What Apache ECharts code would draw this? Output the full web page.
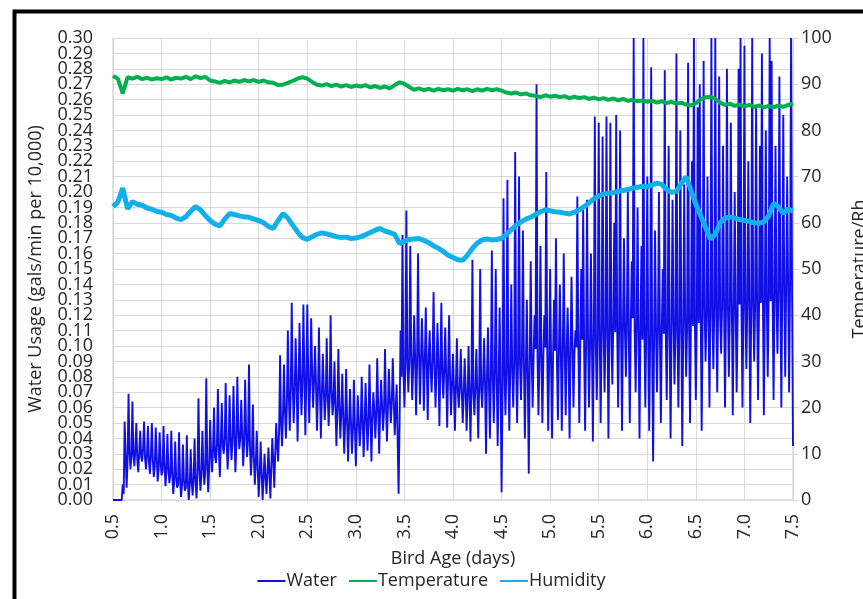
<!DOCTYPE html>
<html>
<head>
<meta charset="utf-8">
<script src="https://cdn.jsdelivr.net/npm/echarts@6/dist/echarts.min.js"></script>
<style>
  html, body { margin: 0; padding: 0; background: #fff; }
  #chart { width: 863px; height: 599px; }
</style>
</head>
<body>
<div id="chart"></div>
<script>
// water readings, one every WATER_STEP days starting at WATER_START
const WATER_START = 0.5;
const WATER_STEP = 0.01;
const waterValues = [
  0, 0, 0, 0, 0, 0, 0, 0, 0, 0, 0.010, 0.004, 0.051, 0.030, 0.008, 0.025, 0.069, 0.032, 0.020, 0.028,
  0.064, 0.030, 0.022, 0.033, 0.050, 0.026, 0.018, 0.031, 0.045, 0.028, 0.025, 0.034, 0.051, 0.027, 0.020, 0.030, 0.048, 0.025, 0.017, 0.029,
  0.050, 0.026, 0.015, 0.022, 0.047, 0.028, 0.012, 0.020, 0.044, 0.025, 0.016, 0.019, 0.048, 0.024, 0.009, 0.018, 0.043, 0.021, 0.011, 0.016,
  0.045, 0.018, 0.004, 0.012, 0.038, 0.015, 0.008, 0.010, 0.044, 0.014, 0.002, 0.009, 0.036, 0.013, 0.006, 0.008, 0.042, 0.012, 0.000, 0.010,
  0.033, 0.012, 0.003, 0.015, 0.040, 0.011, 0.001, 0.018, 0.066, 0.020, 0.006, 0.016, 0.045, 0.022, 0.010, 0.019, 0.079, 0.025, 0.005, 0.021,
  0.052, 0.030, 0.018, 0.034, 0.060, 0.028, 0.024, 0.036, 0.072, 0.032, 0.015, 0.038, 0.063, 0.035, 0.030, 0.040, 0.076, 0.037, 0.020, 0.033,
  0.068, 0.041, 0.026, 0.038, 0.074, 0.044, 0.018, 0.036, 0.080, 0.046, 0.033, 0.040, 0.065, 0.043, 0.022, 0.037, 0.078, 0.045, 0.028, 0.039,
  0.088, 0.035, 0.016, 0.030, 0.062, 0.028, 0.010, 0.024, 0.045, 0.020, 0.002, 0.016, 0.038, 0.018, 0.000, 0.014, 0.030, 0.015, 0.004, 0.017,
  0.034, 0.018, 0.001, 0.022, 0.040, 0.026, 0.008, 0.030, 0.050, 0.035, 0.025, 0.045, 0.094, 0.050, 0.035, 0.055, 0.088, 0.058, 0.040, 0.062,
  0.110, 0.068, 0.045, 0.072, 0.128, 0.075, 0.050, 0.070, 0.105, 0.078, 0.038, 0.074, 0.115, 0.080, 0.055, 0.076, 0.127, 0.082, 0.042, 0.078,
  0.127, 0.080, 0.050, 0.076, 0.118, 0.083, 0.060, 0.078, 0.100, 0.074, 0.045, 0.070, 0.112, 0.072, 0.040, 0.068, 0.095, 0.071, 0.052, 0.066,
  0.105, 0.070, 0.048, 0.066, 0.120, 0.072, 0.055, 0.064, 0.090, 0.060, 0.035, 0.058, 0.098, 0.062, 0.040, 0.056, 0.082, 0.054, 0.030, 0.050,
  0.085, 0.052, 0.025, 0.048, 0.072, 0.050, 0.030, 0.046, 0.078, 0.049, 0.022, 0.045, 0.068, 0.051, 0.035, 0.047, 0.080, 0.053, 0.028, 0.049,
  0.076, 0.054, 0.032, 0.050, 0.088, 0.056, 0.025, 0.052, 0.070, 0.058, 0.040, 0.055, 0.092, 0.060, 0.030, 0.057, 0.078, 0.061, 0.045, 0.058,
  0.098, 0.062, 0.038, 0.060, 0.085, 0.065, 0.050, 0.063, 0.092, 0.066, 0.042, 0.058, 0.075, 0.040, 0.004, 0.050, 0.110, 0.080, 0.172, 0.085,
  0.060, 0.088, 0.188, 0.092, 0.070, 0.090, 0.165, 0.095, 0.065, 0.086, 0.120, 0.093, 0.055, 0.089, 0.160, 0.096, 0.062, 0.091, 0.118, 0.094,
  0.058, 0.090, 0.125, 0.087, 0.052, 0.093, 0.110, 0.085, 0.070, 0.091, 0.135, 0.088, 0.060, 0.084, 0.115, 0.090, 0.048, 0.086, 0.128, 0.082,
  0.066, 0.085, 0.112, 0.080, 0.047, 0.083, 0.120, 0.078, 0.055, 0.076, 0.095, 0.072, 0.045, 0.075, 0.105, 0.070, 0.060, 0.074, 0.098, 0.071,
  0.050, 0.068, 0.092, 0.072, 0.045, 0.066, 0.100, 0.070, 0.038, 0.074, 0.156, 0.069, 0.055, 0.073, 0.098, 0.071, 0.040, 0.076, 0.150, 0.072,
  0.060, 0.078, 0.105, 0.074, 0.030, 0.080, 0.112, 0.076, 0.040, 0.082, 0.162, 0.079, 0.050, 0.084, 0.150, 0.080, 0.035, 0.078, 0.125, 0.075,
  0.005, 0.070, 0.196, 0.082, 0.055, 0.086, 0.208, 0.080, 0.045, 0.088, 0.140, 0.084, 0.060, 0.090, 0.226, 0.087, 0.050, 0.092, 0.210, 0.088,
  0.065, 0.094, 0.175, 0.090, 0.040, 0.086, 0.130, 0.080, 0.017, 0.088, 0.155, 0.092, 0.060, 0.095, 0.120, 0.098, 0.270, 0.093, 0.055, 0.090,
  0.165, 0.096, 0.050, 0.092, 0.120, 0.099, 0.213, 0.094, 0.045, 0.090, 0.150, 0.088, 0.040, 0.093, 0.130, 0.097, 0.170, 0.091, 0.052, 0.095,
  0.140, 0.098, 0.045, 0.094, 0.160, 0.100, 0.055, 0.096, 0.125, 0.092, 0.040, 0.097, 0.145, 0.101, 0.060, 0.095, 0.110, 0.099, 0.197, 0.103,
  0.050, 0.100, 0.150, 0.104, 0.190, 0.098, 0.045, 0.102, 0.195, 0.106, 0.060, 0.099, 0.160, 0.103, 0.038, 0.108, 0.249, 0.101, 0.065, 0.105,
  0.245, 0.110, 0.050, 0.106, 0.236, 0.112, 0.070, 0.108, 0.249, 0.114, 0.040, 0.104, 0.245, 0.111, 0.075, 0.115, 0.180, 0.109, 0.250, 0.113,
  0.060, 0.112, 0.240, 0.108, 0.045, 0.115, 0.170, 0.110, 0.080, 0.117, 0.200, 0.106, 0.050, 0.113, 0.155, 0.118, 0.300, 0.110, 0.070, 0.114,
  0.190, 0.108, 0.040, 0.112, 0.165, 0.104, 0.300, 0.110, 0.060, 0.115, 0.210, 0.102, 0.045, 0.108, 0.281, 0.100, 0.025, 0.105, 0.175, 0.110,
  0.070, 0.112, 0.200, 0.106, 0.050, 0.114, 0.150, 0.108, 0.279, 0.110, 0.065, 0.116, 0.230, 0.107, 0.040, 0.112, 0.195, 0.118, 0.075, 0.109,
  0.290, 0.114, 0.060, 0.110, 0.240, 0.116, 0.035, 0.108, 0.205, 0.118, 0.080, 0.112, 0.284, 0.115, 0.050, 0.120, 0.220, 0.113, 0.300, 0.117,
  0.065, 0.120, 0.255, 0.115, 0.270, 0.122, 0.045, 0.118, 0.285, 0.125, 0.090, 0.119, 0.210, 0.123, 0.060, 0.127, 0.300, 0.121, 0.085, 0.126,
  0.300, 0.124, 0.070, 0.128, 0.275, 0.120, 0.095, 0.126, 0.230, 0.130, 0.060, 0.122, 0.280, 0.127, 0.080, 0.124, 0.245, 0.129, 0.055, 0.121,
  0.200, 0.125, 0.070, 0.119, 0.280, 0.127, 0.300, 0.122, 0.060, 0.128, 0.295, 0.124, 0.085, 0.130, 0.220, 0.126, 0.050, 0.123, 0.300, 0.129,
  0.090, 0.126, 0.255, 0.131, 0.065, 0.124, 0.230, 0.128, 0.290, 0.133, 0.055, 0.127, 0.240, 0.130, 0.080, 0.134, 0.300, 0.129, 0.285, 0.132,
  0.065, 0.135, 0.230, 0.130, 0.095, 0.138, 0.275, 0.133, 0.060, 0.140, 0.250, 0.136, 0.080, 0.142, 0.210, 0.138, 0.070, 0.144, 0.300, 0.140,
  0.035
];

// temperature and humidity, one every CLIMATE_STEP days
const CLIMATE_START = 0.5;
const CLIMATE_STEP = 0.05;
const temperatureValues = [
  91.8, 91.2, 88.0, 91.5, 91.2, 91.6, 91.1, 91.4, 91.0, 91.3,
  91.1, 91.5, 91.0, 91.4, 91.2, 91.6, 91.1, 91.7, 91.3, 91.6,
  90.8, 90.6, 90.3, 90.7, 90.4, 90.8, 90.5, 90.9, 90.6, 90.9,
  90.5, 90.8, 90.4, 90.3, 89.8, 89.9, 90.3, 90.7, 91.2, 91.5,
  91.2, 90.5, 89.9, 89.7, 90.0, 89.6, 89.9, 89.5, 89.8, 89.4,
  89.7, 89.5, 89.8, 89.3, 89.6, 89.2, 89.5, 89.1, 89.8, 90.4,
  90.1, 89.4, 88.8, 89.1, 88.7, 89.0, 88.6, 89.0, 88.7, 88.9,
  88.6, 89.0, 88.7, 88.9, 88.5, 88.9, 88.6, 89.0, 88.7, 88.9,
  88.6, 88.2, 88.0, 88.2, 87.8, 88.0, 87.6, 87.5, 87.2, 87.6,
  87.3, 87.5, 87.2, 87.4, 87.0, 87.3, 87.0, 87.2, 86.8, 87.1,
  86.7, 87.0, 86.6, 86.9, 86.5, 86.8, 86.4, 86.6, 86.3, 86.5,
  86.2, 86.4, 86.0, 86.3, 85.9, 86.2, 85.8, 86.0, 85.6, 85.4,
  85.9, 86.7, 87.2, 87.3, 86.8, 86.0, 85.5, 85.8, 85.3, 85.6,
  85.2, 85.5, 85.1, 85.4, 85.0, 85.3, 85.0, 85.4, 85.1, 85.5,
  85.8
];
const humidityValues = [
  63.5, 64.5, 67.5, 63.0, 64.6, 64.0, 63.8, 63.2, 62.9, 62.5,
  62.3, 61.8, 61.6, 61.0, 60.7, 61.3, 62.5, 63.5, 62.8, 61.6,
  60.5, 59.7, 59.3, 60.8, 62.0, 61.8, 61.5, 61.3, 61.2, 60.8,
  60.5, 60.0, 59.2, 58.8, 60.5, 62.0, 61.0, 59.5, 58.0, 56.8,
  56.4, 57.0, 57.5, 57.8, 57.6, 57.3, 57.0, 56.8, 56.9, 56.6,
  56.7, 57.0, 57.4, 57.9, 58.4, 58.8, 58.2, 57.9, 57.5, 55.5,
  56.0, 56.4, 56.5, 56.6, 56.2, 55.7, 55.0, 54.5, 53.8, 53.0,
  52.5, 52.0, 51.9, 53.0, 54.5, 55.6, 56.3, 56.5, 56.3, 56.4,
  56.6, 57.5, 58.5, 59.5, 60.2, 60.8, 61.2, 61.8, 62.4, 62.8,
  62.6, 62.4, 62.3, 62.1, 61.9, 62.3, 62.8, 63.5, 64.3, 65.2,
  65.8, 66.2, 66.4, 66.5, 66.8, 67.0, 67.2, 67.5, 67.7, 67.9,
  67.8, 68.2, 68.6, 68.3, 67.2, 66.6, 66.8, 68.5, 70.0, 67.0,
  64.0, 61.5, 59.0, 56.5, 57.5, 60.0, 61.0, 61.3, 61.0, 60.7,
  60.5, 60.3, 60.0, 59.9, 60.2, 61.5, 64.2, 63.5, 62.0, 63.0,
  62.5
];

function toPairs(start, step, values) {
  return values.map((v, i) => [+(start + i * step).toFixed(3), v]);
}

const chart = echarts.init(document.getElementById('chart'));
const font = '"Open Sans", sans-serif';
const textColor = '#262626';
const gridColor = '#d9d9d9';

const option = {
  backgroundColor: '#fff',
  animation: false,
  graphic: [{
    type: 'rect',
    shape: { x: 14.5, y: 11.5, width: 900, height: 700 },
    style: { fill: 'none', stroke: '#000', lineWidth: 4 },
    z: 100
  }],
  legend: {
    bottom: 4,
    left: 'center',
    icon: 'rect',
    itemWidth: 28,
    itemHeight: 2,
    itemGap: 12,
    textStyle: { fontFamily: font, fontSize: 18, color: textColor, padding: [0, 0, 0, -4] },
    data: ['Water', 'Temperature', 'Humidity']
  },
  grid: { left: 113, right: 70, top: 38, bottom: 99, outerBoundsMode: 'none' },
  xAxis: {
    type: 'value',
    min: 0.5,
    max: 7.5,
    interval: 0.5,
    name: 'Bird Age (days)',
    nameLocation: 'middle',
    nameGap: 50,
    nameTextStyle: { fontFamily: font, fontSize: 18, color: textColor },
    axisLine: { show: true, lineStyle: { color: gridColor, width: 1.5 } },
    axisTick: { show: false },
    splitLine: { show: true, lineStyle: { color: gridColor, width: 1 } },
    axisLabel: {
      rotate: 90,
      margin: 14,
      showMinLabel: true,
      showMaxLabel: true,
      fontFamily: font,
      fontSize: 18,
      color: textColor,
      formatter: v => v.toFixed(1)
    }
  },
  yAxis: [{
    // water axis: inner labels 0.01 .. 0.29
    type: 'value',
    min: 0,
    max: 0.3,
    interval: 0.01,
    name: 'Water Usage (gals/min per 10,000)',
    nameLocation: 'middle',
    nameGap: 68,
    nameRotate: 90,
    nameTextStyle: { fontFamily: font, fontSize: 18, color: textColor },
    axisLine: { show: true, lineStyle: { color: gridColor, width: 1.5 } },
    axisTick: { show: false },
    splitLine: { show: true, lineStyle: { color: gridColor, width: 1 } },
    axisLabel: {
      margin: 20,
      showMinLabel: false,
      showMaxLabel: false,
      fontFamily: font,
      fontSize: 18,
      color: textColor,
      formatter: v => v.toFixed(2)
    }
  }, {
    type: 'value',
    min: 0,
    max: 100,
    interval: 10,
    position: 'right',
    name: 'Temperature/Rh',
    nameLocation: 'middle',
    nameGap: 58,
    nameRotate: 90,
    nameTextStyle: { fontFamily: font, fontSize: 18, color: textColor },
    axisLine: { show: true, lineStyle: { color: gridColor, width: 1.5 } },
    axisTick: { show: true, length: 6, lineStyle: { color: gridColor } },
    splitLine: { show: false },
    axisLabel: {
      margin: 8,
      showMinLabel: true,
      showMaxLabel: true,
      fontFamily: font,
      fontSize: 18,
      color: textColor
    }
  }, {
    // same water scale again, only for its end labels 0.00 and 0.30
    type: 'value',
    min: 0,
    max: 0.3,
    interval: 0.3,
    position: 'left',
    axisLine: { show: false },
    axisTick: { show: false },
    splitLine: { show: false },
    axisLabel: {
      margin: 20,
      showMinLabel: true,
      showMaxLabel: true,
      fontFamily: font,
      fontSize: 18,
      color: textColor,
      formatter: v => v.toFixed(2)
    }
  }],
  series: [{
    name: 'Water',
    type: 'line',
    yAxisIndex: 0,
    showSymbol: false,
    symbol: 'none',
    color: '#1010e6',
    lineStyle: { width: 1.9, color: '#1010e6' },
    data: toPairs(WATER_START, WATER_STEP, waterValues),
    z: 2
  }, {
    name: 'Temperature',
    type: 'line',
    yAxisIndex: 1,
    showSymbol: false,
    symbol: 'none',
    color: '#00b050',
    lineStyle: { width: 4, color: '#00b050' },
    data: toPairs(CLIMATE_START, CLIMATE_STEP, temperatureValues),
    z: 3
  }, {
    name: 'Humidity',
    type: 'line',
    yAxisIndex: 1,
    showSymbol: false,
    symbol: 'none',
    color: '#12b0ea',
    lineStyle: { width: 5, color: '#12b0ea' },
    data: toPairs(CLIMATE_START, CLIMATE_STEP, humidityValues),
    z: 4
  }]
};

chart.setOption(option);
</script>
</body>
</html>
